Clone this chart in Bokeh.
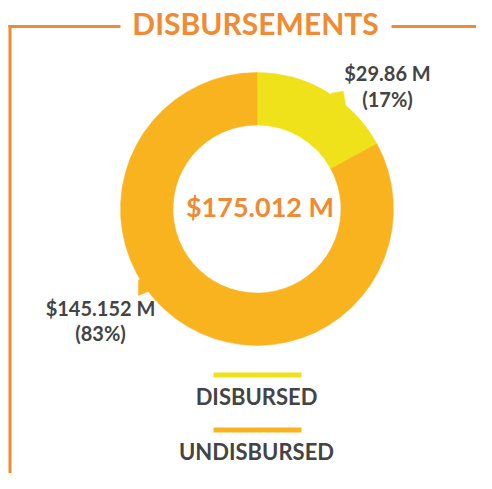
import math
from bokeh.plotting import figure
from bokeh.models import Range1d
from bokeh.core.properties import value
from bokeh.embed import file_html
from bokeh.resources import INLINE

# ---- data ----
categories = ["DISBURSED", "UNDISBURSED"]
amounts = [29.86, 145.152]
amount_labels = ["$29.86 M", "$145.152 M"]
pct_labels = ["(17%)", "(83%)"]
total_label = "$175.012 M"
title = "DISBURSEMENTS"
colors = ["#EFE21A", "#F9B31F"]

ORANGE = "#F08A33"
GRAY = "#444444"
FONT = "Lato"

W, H = 476, 473
PAGE_H = 489
X0 = 0  # page x of figure's left edge as photographed

def Y(py):
    return PAGE_H - py

p = figure(width=W, height=H, output_backend="svg", toolbar_location=None,
           x_range=Range1d(X0, X0 + W), y_range=Range1d(PAGE_H - H, PAGE_H),
           min_border=0)
p.axis.visible = False
p.grid.visible = False
p.outline_line_color = None
p.background_fill_color = "white"

# donut
cx, cy = 256.5, Y(208.5)
R_out, R_in = 136.5, 84
total = sum(amounts)
cum = 0.0
starts, ends = [], []
for a in amounts:
    starts.append(math.pi / 2 - 2 * math.pi * cum / total)
    cum += a
    ends.append(math.pi / 2 - 2 * math.pi * cum / total)
p.annular_wedge(x=[cx] * len(amounts), y=[cy] * len(amounts), inner_radius=R_in,
                outer_radius=R_out, start_angle=starts, end_angle=ends,
                direction="clock", fill_color=colors, line_color=colors, line_width=0.5)

# label pointers
p.patch(x=[328, 331, 342.7, 345, 345], y=[Y(100), Y(92.7), Y(90.7), Y(103), Y(108)],
        fill_color=colors[0], line_color=colors[0], line_width=0.5)
p.patch(x=[145, 138, 138, 150], y=[Y(272), Y(280), Y(295), Y(290)],
        fill_color=colors[1], line_color=colors[1], line_width=0.5)

# frame lines
p.line(x=[8, 120], y=[Y(26), Y(26)], line_color=ORANGE, line_width=3)
p.line(x=[391, X0 + W], y=[Y(26), Y(26)], line_color=ORANGE, line_width=3)
p.line(x=[9.5, 9.5], y=[Y(24.5), Y(489)], line_color=ORANGE, line_width=3)

# title
p.text(x=[255], y=[Y(22)], text=[title], text_font=value(FONT), text_font_style="bold",
       text_font_size="30px", text_color=ORANGE, text_align="center", text_baseline="middle")

# center total
p.text(x=[259.5], y=[Y(206)], text=[total_label], text_font=value(FONT), text_font_style="bold",
       text_font_size="27px", text_color=ORANGE, text_align="center", text_baseline="middle")

# slice labels
lx = [387, 100]
ly1 = [72, 307]
ly2 = [98, 332]
p.text(x=lx, y=[Y(v) for v in ly1], text=amount_labels, text_font=value(FONT),
       text_font_style="bold", text_font_size="20px", text_color=GRAY,
       text_align="center", text_baseline="middle")
p.text(x=lx, y=[Y(v) for v in ly2], text=pct_labels, text_font=value(FONT),
       text_font_style="bold", text_font_size="20px", text_color=GRAY,
       text_align="center", text_baseline="middle")

# legend
bar_y = [374.5, 429.5]
txt_y = [395.5, 450.5]
p.segment(x0=[213] * 2, x1=[301] * 2, y0=[Y(v) for v in bar_y], y1=[Y(v) for v in bar_y],
          line_color=colors, line_width=5)
p.text(x=[256] * 2, y=[Y(v) for v in txt_y], text=categories, text_font=value(FONT),
       text_font_style="bold", text_font_size="22px", text_color=GRAY,
       text_align="center", text_baseline="middle")

open("out.html", "w").write(file_html(p, INLINE))
